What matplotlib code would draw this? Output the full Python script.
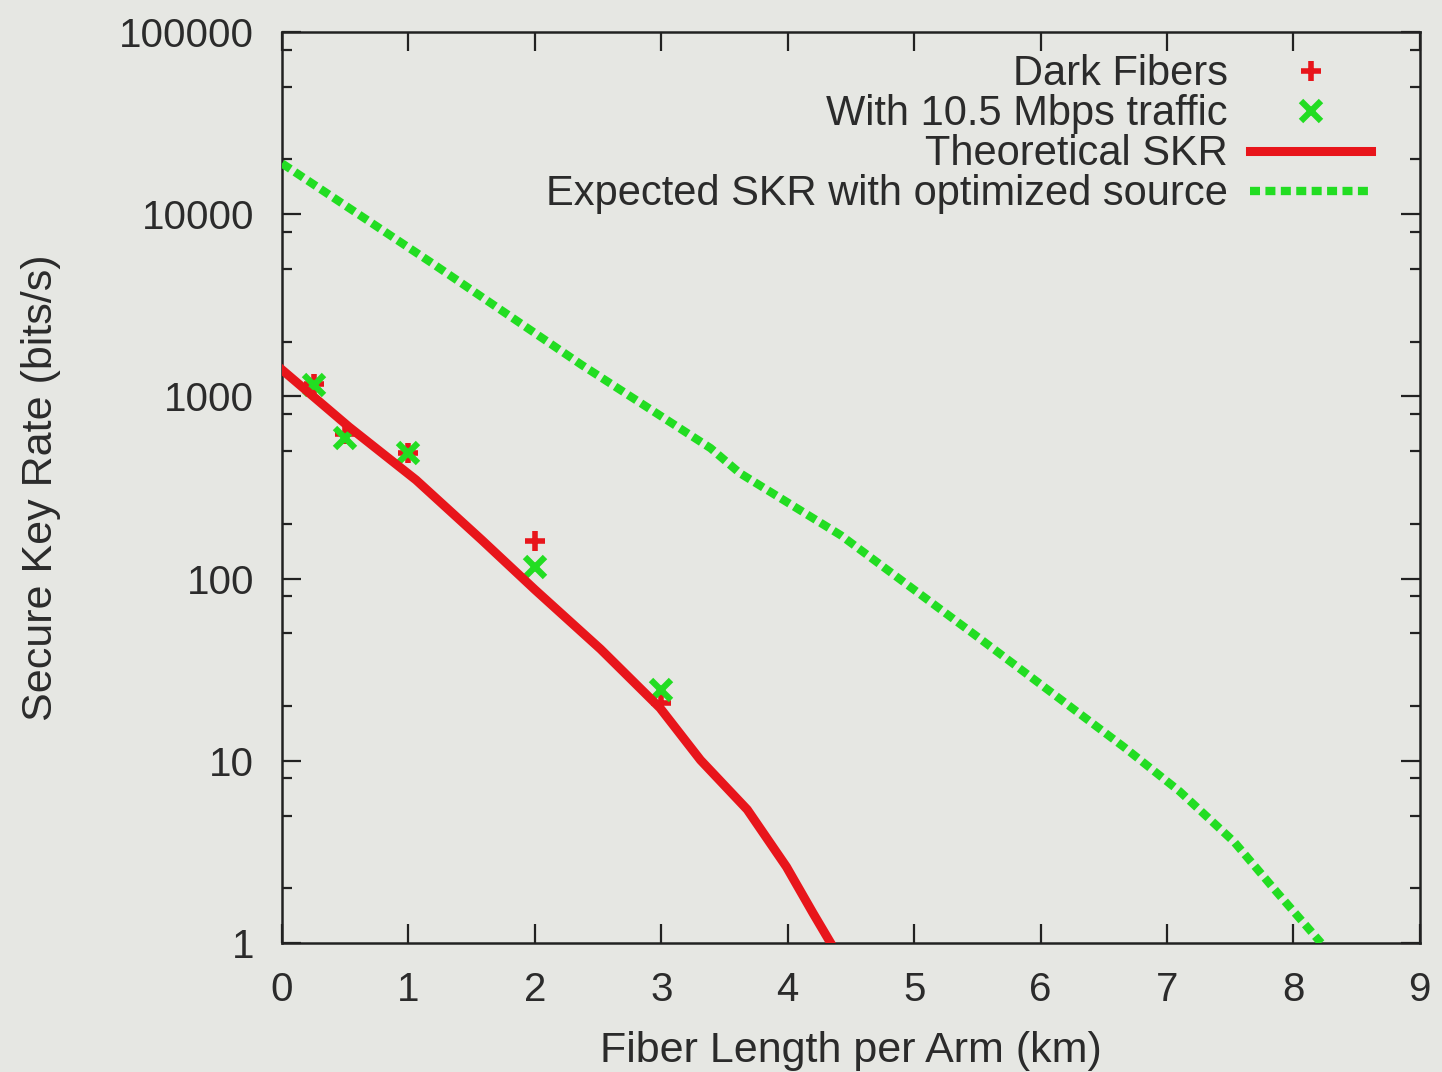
import numpy as np
import matplotlib.pyplot as plt

# measured points (fiber length per arm in km, secure key rate in bits/s)
dark_x = [0.25, 0.5, 1.0, 2.0, 3.0]
dark_y = [1170, 620, 490, 160, 20.8]

traffic_x = [0.25, 0.5, 1.0, 2.0, 3.0]
traffic_y = [1155, 589, 487, 116, 24.5]

# theoretical SKR curve
theory_x = [0, 0.53, 1.06, 1.58, 2.0, 2.52, 2.99, 3.31, 3.68, 3.99, 4.20, 4.34]
theory_y = [1400, 680, 348, 163, 87, 41, 19.5, 10.1, 5.4, 2.62, 1.46, 1.0]

# expected SKR with optimized source
expected_x = [0, 1.19, 2.37, 3.39, 3.62, 4.42, 5.5, 6.66, 7.10, 7.53, 7.87, 8.22]
expected_y = [19000, 5370, 1490, 520, 380, 173, 48, 11.9, 6.8, 3.6, 1.9, 1.0]

BG = "#e6e7e3"
TXT = "#2b2b2b"
RED = "#e8151b"
GREEN = "#22dd22"

plt.rcParams["font.family"] = ["Liberation Sans", "DejaVu Sans"]

fig = plt.figure(figsize=(14.42, 10.72), dpi=100, facecolor=BG)
ax = fig.add_axes([0.1956, 0.1203, 0.789, 0.8498], facecolor=BG)

ax.plot(dark_x, dark_y, linestyle="none", marker="+", markersize=15, markeredgewidth=4,
        color=RED, label="Dark Fibers", zorder=2)
ax.plot(traffic_x, traffic_y, linestyle="none", marker="x", markersize=15, markeredgewidth=4.5,
        color=GREEN, label="With 10.5 Mbps traffic", zorder=2)
ax.plot(theory_x, theory_y, color=RED, lw=6.5, solid_joinstyle="round", label="Theoretical SKR", zorder=3)
ax.plot(expected_x, expected_y, color=GREEN, lw=6, linestyle=(0, (1.2, 0.65)),
        label="Expected SKR with optimized source", zorder=3)

ax.set_yscale("log")
ax.set_xlim(0, 9)
ax.set_ylim(1, 100000)

ax.set_xticks(range(10))
ax.set_yticks([1, 10, 100, 1000, 10000, 100000])
ax.set_yticklabels(["1", "10", "100", "1000", "10000", "100000"])
minors = [m * 10.0 ** e for e in range(0, 5) for m in (2, 5, 8)]
ax.set_yticks(minors, minor=True)
ax.set_yticklabels([], minor=True)
ax.xaxis.set_minor_locator(plt.NullLocator())

ax.tick_params(which="major", direction="in", length=14, width=1.6, top=True, right=True,
               labelsize=29, colors="#222222", labelcolor=TXT, pad=20)
ax.tick_params(which="minor", direction="in", length=7, width=1.6, right=True, colors="#222222")
for s in ax.spines.values():
    s.set_linewidth(1.8)
    s.set_color("#222222")

ax.set_xlabel("Fiber Length per Arm (km)", fontsize=31, color=TXT, labelpad=16)
ax.set_ylabel("Secure Key Rate (bits/s)", fontsize=31, color=TXT, labelpad=42)

ax.legend(loc="upper right", bbox_to_anchor=(0.972, 0.994), frameon=False, markerfirst=False,
          fontsize=30, handlelength=2.9, handletextpad=0.55, labelspacing=0.0,
          borderaxespad=0.0, labelcolor=TXT)

fig.savefig("out.png", dpi=100, facecolor=BG)
